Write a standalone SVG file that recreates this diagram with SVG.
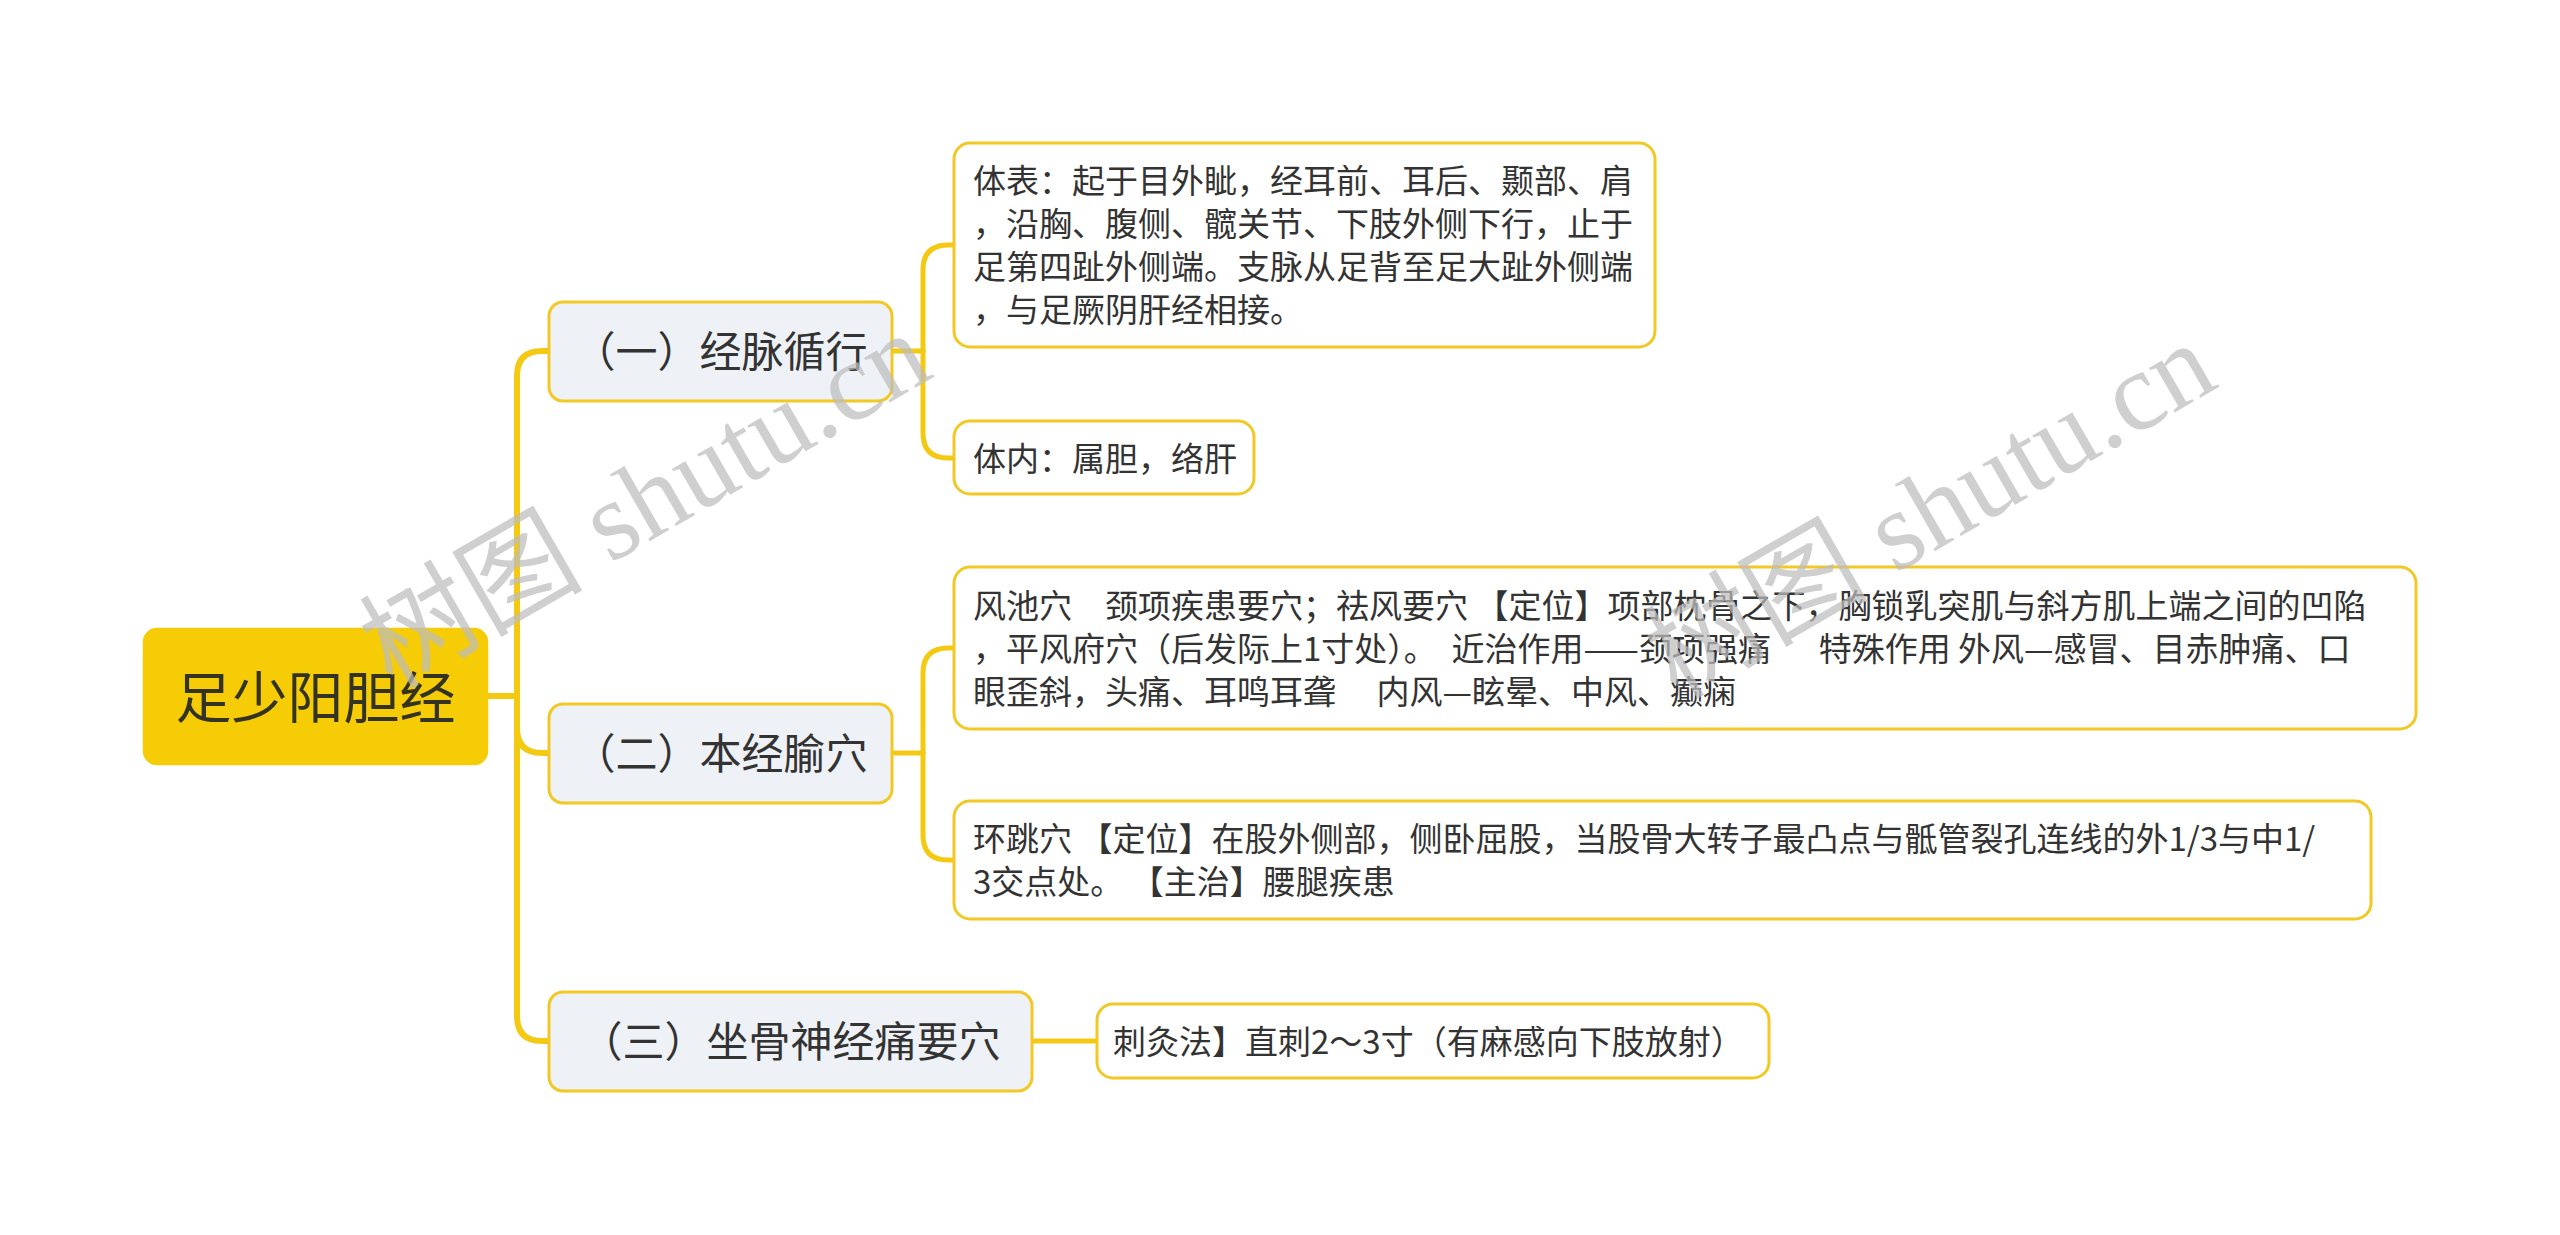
<svg xmlns="http://www.w3.org/2000/svg" width="2560" height="1235" viewBox="0 0 2560 1235">
<style>
  .cn { font-family: "Noto Sans CJK SC", "Noto Sans", sans-serif; fill: #333333; }
  .root-box { fill: #f5cc05; stroke: #f5cc05; stroke-width: 2.5; }
  .branch-box { fill: #eef1f5; stroke: #f2c824; stroke-width: 3; }
  .leaf-box { fill: #ffffff; stroke: #f2c824; stroke-width: 3; }
  .root-text { font-size: 56px; fill: #333320; }
  .branch-text { font-size: 42px; }
  .leaf-text { font-size: 33px; }
  .trunk { fill: none; stroke: #f4c912; stroke-width: 6; stroke-linecap: round; }
  .twig { fill: none; stroke: #f4c912; stroke-width: 5; stroke-linecap: round; }
  .wm { font-family: "Liberation Serif", "Noto Sans CJK SC", serif; font-size: 112px; fill: #bdbdbd; opacity: 0.72; }
</style>
<rect width="2560" height="1235" fill="#ffffff"/>
<g id="connectors">
  <path class="trunk" d="M487,696 H517"/>
  <path class="trunk" d="M517,696 V376 Q517,351 542,351 H549"/>
  <path class="trunk" d="M517,696 V728 Q517,753 542,753 H549"/>
  <path class="trunk" d="M517,696 V1016 Q517,1041 542,1041 H549"/>
  <path class="twig" d="M892,351 H923"/>
  <path class="twig" d="M923,351 V270 Q923,245 948,245 H953"/>
  <path class="twig" d="M923,351 V433 Q923,458 948,458 H953"/>
  <path class="twig" d="M892,753 H923"/>
  <path class="twig" d="M923,753 V673 Q923,648 948,648 H953"/>
  <path class="twig" d="M923,753 V835 Q923,860 948,860 H953"/>
  <path class="twig" d="M1032,1041 H1096"/>
</g>
<g id="root">
  <rect class="root-box" x="144" y="629" width="343" height="135" rx="13"/>
  <text class="cn root-text" x="315.5" y="718" text-anchor="middle">足少阳胆经</text>
</g>
<g id="branch1">
  <rect class="branch-box" x="549" y="302" width="343" height="99" rx="14"/>
  <text class="cn branch-text" x="720.5" y="367" text-anchor="middle">（一）经脉循行</text>
</g>
<g id="branch2">
  <rect class="branch-box" x="549" y="704" width="343" height="99" rx="14"/>
  <text class="cn branch-text" x="720.5" y="769" text-anchor="middle">（二）本经腧穴</text>
</g>
<g id="branch3">
  <rect class="branch-box" x="549" y="992" width="483" height="99" rx="14"/>
  <text class="cn branch-text" x="790.5" y="1057" text-anchor="middle">（三）坐骨神经痛要穴</text>
</g>
<g id="leaf1">
  <rect class="leaf-box" x="954" y="143" width="701" height="204" rx="16"/>
  <text class="cn leaf-text" x="973" y="193">体表：起于目外眦，经耳前、耳后、颞部、肩</text>
  <text class="cn leaf-text" x="973" y="236">，沿胸、腹侧、髋关节、下肢外侧下行，止于</text>
  <text class="cn leaf-text" x="973" y="279">足第四趾外侧端。支脉从足背至足大趾外侧端</text>
  <text class="cn leaf-text" x="973" y="322">，与足厥阴肝经相接。</text>
</g>
<g id="leaf2">
  <rect class="leaf-box" x="954" y="421" width="300" height="73" rx="16"/>
  <text class="cn leaf-text" x="973" y="470.5">体内：属胆，络肝</text>
</g>
<g id="leaf3">
  <rect class="leaf-box" x="954" y="567" width="1462" height="162" rx="16"/>
  <text class="cn leaf-text" x="973" y="617.5" xml:space="preserve">风池穴　颈项疾患要穴；祛风要穴 【定位】项部枕骨之下，胸锁乳突肌与斜方肌上端之间的凹陷</text>
  <text class="cn leaf-text" x="973" y="660.5" xml:space="preserve">，平风府穴（后发际上1寸处）。  近治作用——颈项强痛　  特殊作用 外风—感冒、目赤肿痛、口</text>
  <text class="cn leaf-text" x="973" y="703.5" xml:space="preserve">眼歪斜，头痛、耳鸣耳聋　 内风—眩晕、中风、癫痫</text>
</g>
<g id="leaf4">
  <rect class="leaf-box" x="954" y="801" width="1417" height="118" rx="16"/>
  <text class="cn leaf-text" x="973" y="851">环跳穴 【定位】在股外侧部，侧卧屈股，当股骨大转子最凸点与骶管裂孔连线的外1/3与中1/</text>
  <text class="cn leaf-text" x="973" y="894">3交点处。 【主治】腰腿疾患</text>
</g>
<g id="leaf5">
  <rect class="leaf-box" x="1097" y="1004" width="672" height="74" rx="16"/>
  <text class="cn leaf-text" x="1113" y="1053.5">刺灸法】直刺2～3寸（有麻感向下肢放射）</text>
</g>
<g id="watermarks">
  <text class="wm" x="645" y="500" text-anchor="middle" dominant-baseline="central" transform="rotate(-30 645 500)">树图 shutu.cn</text>
  <text class="wm" x="1930" y="510" text-anchor="middle" dominant-baseline="central" transform="rotate(-30 1930 510)">树图 shutu.cn</text>
</g>
</svg>
